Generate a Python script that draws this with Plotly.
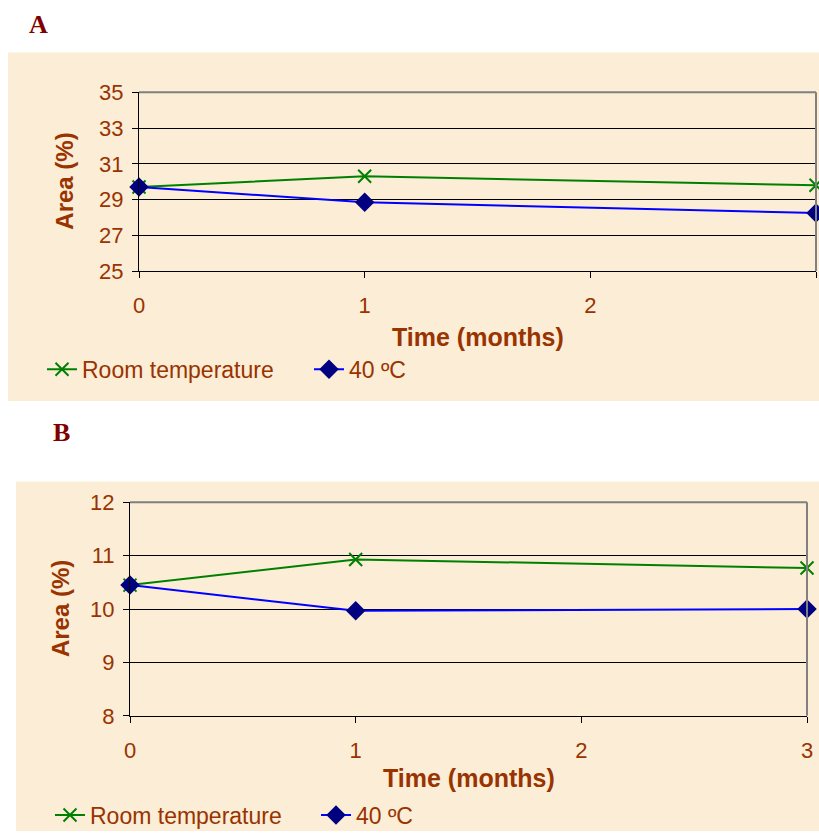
import plotly.graph_objects as go

# ---- data ----
months = [0, 1, 3]
x_ticks = [0, 1, 2, 3]

a_room = [29.7, 30.3, 29.8]
a_40 = [29.7, 28.85, 28.25]
a_yticks = [25, 27, 29, 31, 33, 35]

b_room = [10.45, 10.93, 10.77]
b_40 = [10.45, 9.97, 10.0]
b_yticks = [8, 9, 10, 11, 12]

series_names = ["Room temperature", "40 ºC"]
panel_labels = ["A", "B"]

W, H = 819, 837
BROWN = "#993300"
PANEL_BG = "#FBEDD6"
PLOT_BG = "#E9D8AF"
GREEN = "#008000"
BLUE = "#0000FF"
NAVY = "#000080"
FONT = "Liberation Sans, Arial, sans-serif"


def px(x):
    return x / W


def py(y):
    return 1 - y / H


fig = go.Figure()

panels = [
    dict(room=a_room, hot=a_40, yt=a_yticks, yr=[25, 35], ax="", leg="legend",
         xd=[px(139), px(816)], yd=[py(273), py(93)],
         outer=(8, 53, 819, 404), label=(27, 25), title_y=339, ytitle_x=65),
    dict(room=b_room, hot=b_40, yt=b_yticks, yr=[8, 12], ax="2", leg="legend2",
         xd=[px(130), px(807)], yd=[py(721), py(506)],
         outer=(16, 485, 819, 837), label=(51, 436), title_y=784, ytitle_x=60),
]

shapes = []
annotations = []
layout_axes = {}

for i, p in enumerate(panels):
    xa = "x" + p["ax"]
    ya = "y" + p["ax"]
    fig.add_trace(go.Scatter(
        x=months, y=p["room"], name=series_names[0], mode="lines+markers",
        xaxis=xa, yaxis=ya, legend=p["leg"], cliponaxis=False,
        line=dict(color=GREEN, width=2),
        marker=dict(symbol="x-thin", size=13, line=dict(color=GREEN, width=2)),
    ))
    fig.add_trace(go.Scatter(
        x=months, y=p["hot"], name=series_names[1], mode="lines+markers",
        xaxis=xa, yaxis=ya, legend=p["leg"], cliponaxis=False,
        line=dict(color=BLUE, width=2),
        marker=dict(symbol="diamond", size=15, color=NAVY),
    ))

    layout_axes["xaxis" + p["ax"]] = dict(
        domain=p["xd"], anchor=ya, range=[0, 3], tickvals=x_ticks, automargin=False,
        showgrid=False, zeroline=False, showline=True, linecolor="black", linewidth=1,
        ticks="outside", ticklen=6, tickcolor="black", ticklabelstandoff=9,
        tickfont=dict(family=FONT, size=22, color=BROWN), fixedrange=True,
    )
    layout_axes["yaxis" + p["ax"]] = dict(
        domain=p["yd"], anchor=xa, range=p["yr"], tickvals=p["yt"], automargin=False,
        showgrid=True, gridcolor="black", gridwidth=1, zeroline=False,
        showline=True, linecolor="black", linewidth=1,
        ticks="outside", ticklen=6, tickcolor="black", ticklabelstandoff=4,
        tickfont=dict(family=FONT, size=22, color=BROWN), fixedrange=True,
    )

    x0, y0, x1, y1 = p["outer"]
    shapes.append(dict(type="rect", xref="paper", yref="paper", layer="below",
                       x0=px(x0), x1=px(x1), y0=py(y1), y1=py(y0),
                       fillcolor=PANEL_BG, line=dict(width=0)))
    # gray top / right plot borders
    shapes.append(dict(type="line", xref=xa + " domain", yref=ya + " domain",
                       x0=0, x1=1, y0=1, y1=1, line=dict(color="#808080", width=2)))
    shapes.append(dict(type="line", xref=xa + " domain", yref=ya + " domain",
                       x0=1, x1=1, y0=0, y1=1, line=dict(color="#808080", width=2)))

    lx, ly = p["label"]
    annotations.append(dict(text="<b>" + panel_labels[i] + "</b>", xref="paper", yref="paper",
                            x=px(lx), y=py(ly), xanchor="left",
                            yanchor="middle", showarrow=False,
                            font=dict(family="Liberation Serif, Times New Roman, serif",
                                      size=26, color="#800000")))
    annotations.append(dict(text="<b>Time (months)</b>", xref="paper", yref="paper",
                            x=(p["xd"][0] + p["xd"][1]) / 2, y=py(p["title_y"]),
                            xanchor="center", yanchor="middle", showarrow=False,
                            font=dict(family=FONT, size=25, color=BROWN)))
    annotations.append(dict(text="<b>Area (%)</b>", xref="paper", yref="paper",
                            x=px(p["ytitle_x"]), y=(p["yd"][0] + p["yd"][1]) / 2,
                            xanchor="center", yanchor="middle", textangle=-90,
                            showarrow=False, font=dict(family=FONT, size=24, color=BROWN)))

fig.update_layout(
    width=W, height=H, margin=dict(l=0, r=0, t=0, b=0, pad=0),
    paper_bgcolor="white", plot_bgcolor=PLOT_BG,
    showlegend=True,
    legend=dict(orientation="h", x=px(42), y=py(372), xanchor="left", yanchor="middle",
                bgcolor="rgba(0,0,0,0)", font=dict(family=FONT, size=23, color=BROWN),
                itemwidth=30, tracegroupgap=0, entrywidth=222),
    legend2=dict(orientation="h", x=px(50), y=py(821), xanchor="left", yanchor="middle",
                 bgcolor="rgba(0,0,0,0)", font=dict(family=FONT, size=23, color=BROWN),
                 itemwidth=30, tracegroupgap=0, entrywidth=221),
    shapes=shapes, annotations=annotations,
    **layout_axes,
)

fig.write_html(
    "out.html",
    config={"displayModeBar": False},
    post_script=(
        "var gd=document.getElementById('{plot_id}');"
        "var h=window.innerHeight||837;"
        "if(h<600||h>1200){h=837;}"
        "var s='margin:0;padding:0;overflow:hidden;width:819px;height:'+h+'px;';"
        "document.documentElement.style.cssText+=s;"
        "document.body.style.cssText+=s;"
        "if(gd&&gd.parentElement){gd.parentElement.style.cssText+=s;}"
        "if(gd&&h!==837){gd.style.height=h+'px';Plotly.relayout(gd,{height:h});}"
    ),
)
